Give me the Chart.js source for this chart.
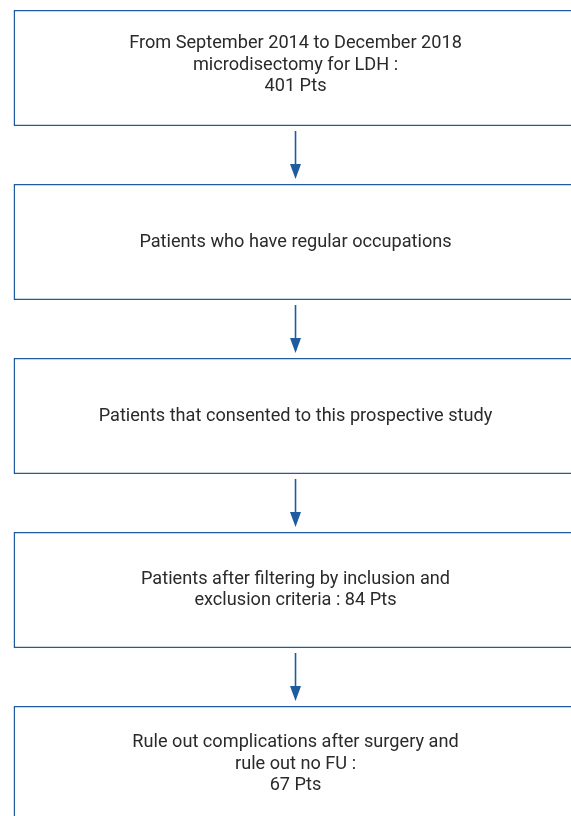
<!DOCTYPE html>
<html>
<head>
<meta charset="utf-8">
<script src="https://cdn.jsdelivr.net/npm/chart.js@4/dist/chart.umd.min.js"></script>
<style>
  html, body { margin: 0; padding: 0; background: #fff; }
  #wrap { width: 571px; height: 816px; position: relative; }
</style>
</head>
<body>
<div id="wrap"><canvas id="flow"></canvas></div>
<script>
// flow steps, top to bottom (one entry per box, one string per text line)
const steps = [
    ['From September 2014 to December 2018', 'microdisectomy for LDH :', '401 Pts'],
    ['Patients who have regular occupations'],
    ['Patients that consented to this prospective study'],
    ['Patients after filtering by inclusion and', 'exclusion criteria : 84 Pts'],
    ['Rule out complications after surgery and', 'rule out no FU :', '67 Pts']
];
const stepIndex = steps.map((s, i) => i);
const boxSpan = steps.map(() => [-1, 1]);

const BLUE = '#1d5c9f';
const TEXT = '#2a2a2a';
const FONT = '19px "Roboto", "Liberation Sans", sans-serif';
const SQUEEZE = 0.955; // condensed look of the original type

// text + connecting arrows, placed through the chart scales
const flowPlugin = {
    id: 'flowText',
    afterDatasetsDraw(chart) {
        const { ctx, scales: { x, y } } = chart;
        const cx = x.getPixelForValue(0);
        const half = 1 / 3;
        ctx.save();

        // arrows between consecutive boxes
        ctx.strokeStyle = BLUE;
        ctx.fillStyle = BLUE;
        ctx.lineWidth = 1.6;
        for (let i = 0; i < steps.length - 1; i++) {
            const y0 = y.getPixelForValue(stepIndex[i] + half) + 5;
            const y1 = y.getPixelForValue(stepIndex[i + 1] - half) - 5;
            ctx.beginPath();
            ctx.moveTo(cx, y0);
            ctx.lineTo(cx, y1 - 12);
            ctx.stroke();
            ctx.beginPath();
            ctx.moveTo(cx - 5.5, y1 - 15);
            ctx.lineTo(cx + 5.5, y1 - 15);
            ctx.lineTo(cx, y1);
            ctx.closePath();
            ctx.fill();
        }

        // box labels
        ctx.fillStyle = TEXT;
        ctx.font = FONT;
        ctx.textAlign = 'center';
        ctx.textBaseline = 'middle';
        const lh = 21.5;
        steps.forEach((lines, i) => {
            const cy = y.getPixelForValue(stepIndex[i]) - (i === 0 ? 3 : 0);
            const top = cy - (lines.length - 1) * lh / 2;
            lines.forEach((t, j) => {
                ctx.save();
                ctx.translate(cx, top + j * lh);
                ctx.scale(SQUEEZE, 1);
                ctx.fillText(t, 0, 0);
                ctx.restore();
            });
        });
        ctx.restore();
    }
};

new Chart(document.getElementById('flow'), {
    type: 'bar',
    data: {
        datasets: [{
            data: stepIndex.map((v, i) => ({ y: v, x: boxSpan[i] })),
            backgroundColor: '#ffffff',
            borderColor: BLUE,
            borderWidth: 1.6,
            borderSkipped: false,
            categoryPercentage: 1,
            barPercentage: 2 / 3
        }]
    },
    options: {
        indexAxis: 'y',
        responsive: true,
        maintainAspectRatio: false,
        animation: false,
        layout: { padding: 0 },
        plugins: { legend: { display: false }, tooltip: { enabled: false } },
        scales: {
            x: { type: 'linear', display: false, min: -1.048, max: 0.977 },
            y: {
                type: 'linear', display: false, reverse: true, offset: false,
                min: -0.3908, max: 4.2989,
                ticks: { stepSize: 1, includeBounds: false }
            }
        }
    },
    plugins: [flowPlugin]
});
</script>
</body>
</html>
